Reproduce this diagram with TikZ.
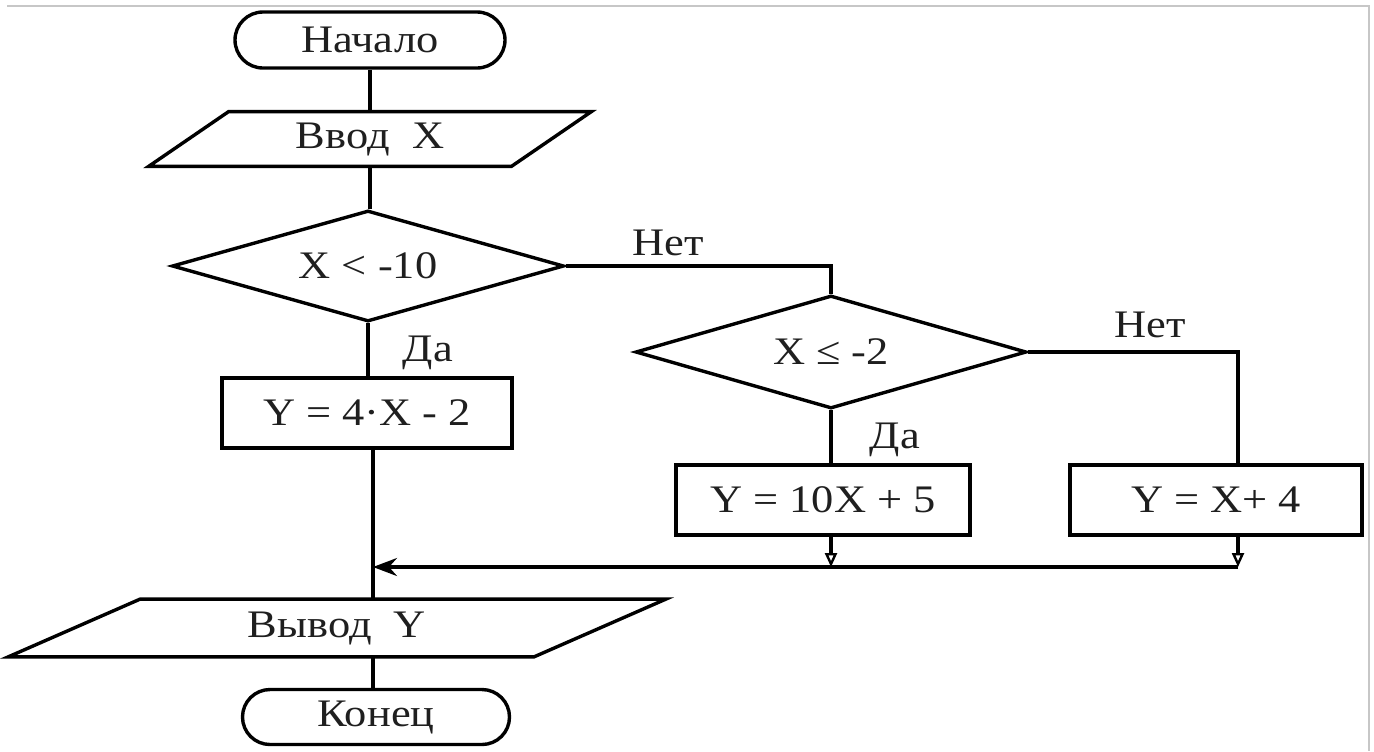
\documentclass[tikz,border=0pt]{standalone}
\usepackage{fontspec}
\setmainfont{Liberation Serif}[FakeStretch=1.14]
\usetikzlibrary{shapes.geometric,shapes.misc,arrows.meta,calc}
\begin{document}
\begin{tikzpicture}[x=0.5pt,y=-0.5pt,
  every node/.style={font=\fontsize{19.5}{22}\selectfont, inner sep=0pt, text=black!88},
  shp/.style={draw=black, line width=1.7pt},
  term/.style={shp, rounded rectangle},
  proc/.style={shp, rectangle},
  dec/.style={shp, diamond, aspect=3.5},
  io/.style={rectangle},
  conn/.style={line width=1.6pt},
  dtip/.style={-{Triangle[open,length=7pt,width=6pt,line width=1.2pt]}},
  ltip/.style={-{Stealth[length=12pt,width=9pt,inset=4pt]}}
]
\useasboundingbox (0,0) rectangle (1374,751);
\draw[black!22, line width=1pt] (7,6) -- (1369,6) -- (1369,751);

% nodes
\node[term, minimum width=135pt, minimum height=28pt] (start) at (370,40) {Начало};
\node[io, minimum width=181pt, minimum height=27pt] (in) at (370,139) {Ввод\ \ X};
\draw[shp] ($(in.north west)+(40,0)$) -- ($(in.north east)+(40,0)$) -- ($(in.south east)+(-40,0)$) -- ($(in.south west)+(-40,0)$) -- cycle;
\node[dec, minimum width=196pt, minimum height=55.5pt] (d1) at (368,266) {X < -10};
\node[proc, minimum width=145pt, minimum height=35pt] (b1) at (367,413) {Y = 4·X - 2};
\node[dec, minimum width=195.5pt, minimum height=56.5pt] (d2) at (831,352) {X ≤ -2};
\node[proc, minimum width=147pt, minimum height=35pt] (b2) at (823,500) {Y = 10X + 5};
\node[proc, minimum width=146pt, minimum height=35pt] (b3) at (1216,500) {Y = X+ 4};
\node[io, minimum width=262.5pt, minimum height=28.5pt] (out) at (337,628) {Вывод\ \ Y};
\draw[shp] ($(out.north west)+(66,0)$) -- ($(out.north east)+(66,0)$) -- ($(out.south east)+(-66,0)$) -- ($(out.south west)+(-66,0)$) -- cycle;
\node[term, minimum width=133.5pt, minimum height=27.5pt] (end) at (376,717) {Конец};

% labels
\node (no1) at (668,243) {Нет};
\node (no2) at (1150,325) {Нет};
\node (yes1) at (428,353) {Да};
\node (yes2) at (895,440) {Да};

% junctions
\coordinate (j3) at (1238,567);
\coordinate (j2) at (831,567);
\coordinate (m) at (373,567);

% connectors
\draw[conn] (start.south) -- (start.south |- in.north);
\draw[conn] (in.south) -- (in.south |- d1.north);
\draw[conn] (d1.south) -- (d1.south |- b1.north);
\draw[conn] (d1.east) -| (d2.north);
\draw[conn] (d2.south) -- (d2.south |- b2.north);
\draw[conn] (d2.east) -| (j3 |- b3.north);
\draw[conn, dtip] (d2.south |- b2.south) -- (j2);
\draw[conn, dtip] (j3 |- b3.south) -- (j3);
\draw[conn, ltip] (j3) -- (m);
\draw[conn] (m |- b1.south) -- (m |- out.north);
\draw[conn] (m |- out.south) -- (m |- end.north);
\end{tikzpicture}
\end{document}
